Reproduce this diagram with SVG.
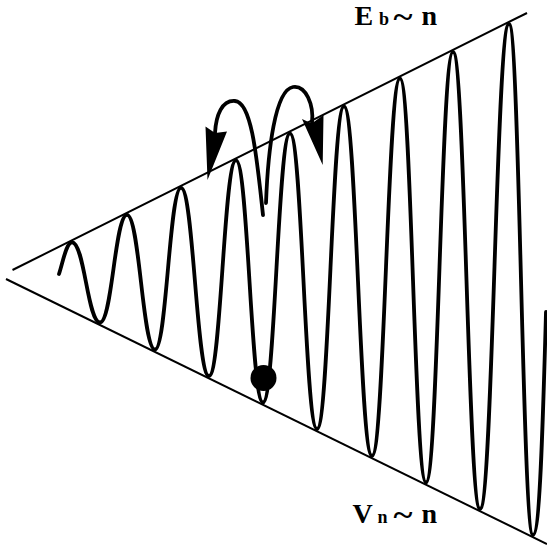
<svg xmlns="http://www.w3.org/2000/svg" width="547" height="550" viewBox="0 0 547 550">
<style>
.axis{stroke:#000;stroke-width:2;fill:none}
.wave{stroke:#000;stroke-width:3.8;fill:none;stroke-linejoin:round;stroke-linecap:round}
.arc{stroke:#000;stroke-width:3.8;fill:none;stroke-linecap:round}
.head{fill:#000;stroke:none}
.lbl{font-family:"Liberation Serif","Times New Roman",serif;font-weight:bold;fill:#000}
</style>
<rect width="547" height="550" fill="#fff"/>
<g id="envelope">
<line class="axis" x1="12.5" y1="270" x2="527" y2="13"/>
<line class="axis" x1="6" y1="279" x2="547" y2="544"/>
</g>
<g id="wave">
<path class="wave" d="M59,274 C63,262 66.2,242.3 72,242.3
C84.6,242.3 87.4,322.5 100,322.5
C112.15,322.5 114.85,214.8 127,214.8
C139.6,214.8 142.4,349.5 155,349.5
C166.7,349.5 169.3,187.8 181,187.8
C193.6,187.8 196.4,376 209,376
C221.15,376 223.85,160.3 236,160.3
C248.15,160.3 250.85,402.5 263,402.5
C275.15,402.5 277.85,133.3 290,133.3
C302.15,133.3 304.85,429 317,429
C329.15,429 331.85,106.3 344,106.3
C356.6,106.3 359.4,456 372,456
C384.6,456 387.4,78.3 400,78.3
C411.7,78.3 414.3,482.5 426,482.5
C438.15,482.5 440.85,51.8 453,51.8
C465.15,51.8 467.85,509 480,509
C493.05,509 495.95,23.8 509,23.8
C519.8,23.8 522.2,535 533,535
C540,535 543,420 546,312"/>
</g>
<g id="hops">
<path class="arc" d="M263,215 C257,160 252,102 235,101 C222,100 216,115 215,133"/>
<polygon class="head" points="205.5,126.5 215,133 227,131.5 207.5,180"/>
<path class="arc" d="M266,203 C268,150 275,90 293,87 C306,85 314,105 312,123"/>
<polygon class="head" points="302,119 311.7,123.5 323.5,115 322.7,165"/>
</g>
<g id="particle">
<circle cx="263.5" cy="378" r="13" fill="#000"/>
</g>
<g id="label-eb">
<text class="lbl" x="354.5" y="24.5" font-size="28">E</text>
<text class="lbl" x="379" y="24.5" font-size="18">b</text>
<text class="lbl" transform="translate(393.5,26.5) scale(1.3,1.1)" font-size="28">~</text>
<text class="lbl" x="421.5" y="24.5" font-size="28">n</text>
</g>
<g id="label-vn">
<text class="lbl" x="352.5" y="523" font-size="28">V</text>
<text class="lbl" x="377.5" y="523" font-size="18">n</text>
<text class="lbl" transform="translate(393.5,525) scale(1.3,1.1)" font-size="28">~</text>
<text class="lbl" x="421.5" y="523" font-size="28">n</text>
</g>
</svg>
